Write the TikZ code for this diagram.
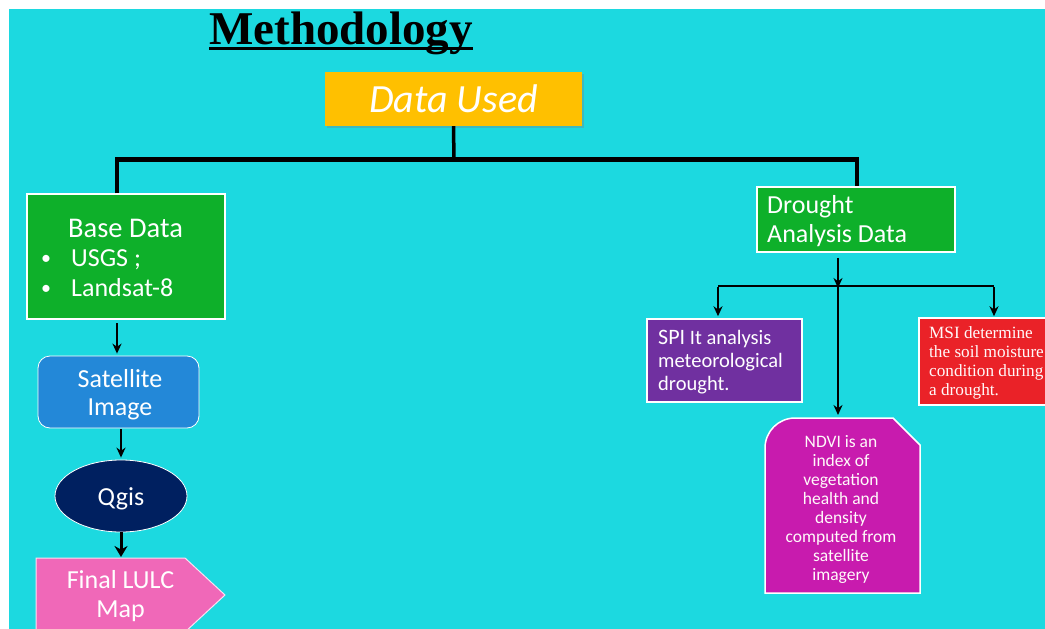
\documentclass[tikz,border=0pt]{standalone}
\usepackage{fontspec}
\setmainfont{Carlito}
\newfontfamily\timesf{Liberation Serif}
\usetikzlibrary{arrows.meta,shapes.geometric,shadows}
\definecolor{bg}{HTML}{1CD9E0}
\definecolor{dorange}{HTML}{FFC000}
\definecolor{dgreen}{HTML}{0EB02A}
\definecolor{dblue}{HTML}{2388D8}
\definecolor{dnavy}{HTML}{002060}
\definecolor{dpink}{HTML}{F068B8}
\definecolor{dpurple}{HTML}{7030A0}
\definecolor{dred}{HTML}{EA2228}
\definecolor{dmag}{HTML}{C81BAE}
\begin{document}
\begin{tikzpicture}[x=1pt,y=-1pt,
  boxs/.style={draw=white, line width=1.5pt, inner sep=0pt},
  txt/.style={text=white, inner sep=0pt},
  big/.style={txt, font=\fontsize{26}{30}\selectfont},
  mid/.style={txt, font=\fontsize{20.5}{23}\selectfont},
  small/.style={txt, font=\fontsize{17.5}{19}\selectfont},
  msit/.style={txt, anchor=base west, font=\timesf\fontsize{17.2}{19}\selectfont, text=white!90!pink},
  trunk/.style={line width=3.5pt},
  arr/.style={line width=2pt, -{Stealth[length=10pt,width=9pt]}},
  bigarr/.style={line width=3pt, -{Stealth[length=11pt,width=13pt]}}
]
\useasboundingbox (0,0) rectangle (1045,629);
\fill[white] (0,0) rectangle (1045,629);
\clip (0,0) rectangle (1045,629);
\fill[bg] (9,9) rectangle (1045,629);

% title
\node[anchor=base west, inner sep=0pt, font=\timesf\bfseries\fontsize{47}{47}\selectfont] (title) at (209,44) {Methodology};
\draw[line width=3pt] ([yshift=-4pt]title.base west) -- ([yshift=-4pt]title.base east);

% data used
\node[inner sep=0pt, fill=dorange, minimum width=257pt, minimum height=54pt,
      drop shadow={opacity=0.35, shadow xshift=2pt, shadow yshift=-2pt},
      text=white, font=\itshape\fontsize{40}{40}\selectfont] (data) at (453.5,99) {Data Used};

% left column
\node[boxs, fill=dgreen, minimum width=198pt, minimum height=125pt] (base) at (126,256.5) {};
\node[txt, font=\fontsize{28.5}{30}\selectfont, anchor=base west] (baset) at (68,237) {Base Data};
\node[txt, font=\fontsize{20}{20}\selectfont, anchor=base] (b1) at (46,264) {\textbullet};
\node[big, anchor=base west] (usgs) at (71,266) {USGS ;};
\node[txt, font=\fontsize{20}{20}\selectfont, anchor=base] (b2) at (46,294) {\textbullet};
\node[big, anchor=base west] (land) at (71,296) {Landsat-8};

\node[draw=white, line width=0.8pt, fill=dblue, rounded corners=12pt, minimum width=161pt, minimum height=72pt, inner sep=0pt] (sat) at (118.5,392) {};
\node[big, anchor=base] (satt1) at (120,387) {Satellite};
\node[big, anchor=base] (satt2) at (120,415) {Image};

\node[ellipse, draw=white, line width=0.8pt, fill=dnavy, minimum width=132pt, minimum height=72pt, inner sep=0pt] (qgis) at (121,496) {};
\node[big, anchor=base] (qgist) at (121,505) {Qgis};

\draw[draw=white!80!dpink, line width=1pt, fill=dpink] (36,558) -- (185,558) -- (225,595) -- (185,632) -- (36,632) -- cycle;
\coordinate (final) at (121,558);
\node[big, anchor=base] (fin1) at (120.5,588) {Final LULC};
\node[big, anchor=base] (fin2) at (120.5,617) {Map};

% right column
\node[boxs, fill=dgreen, minimum width=198pt, minimum height=65pt] (drought) at (856,219.5) {};
\node[big, anchor=base west] (dr1) at (767,213) {Drought};
\node[big, anchor=base west] (dr2) at (767,242.5) {Analysis Data};

\node[boxs, fill=dpurple, minimum width=155pt, minimum height=83pt] (spi) at (724.5,360.5) {};
\node[mid, anchor=base west] (spi1) at (658,344) {{\fontsize{22}{23}\selectfont SPI} It analysis};
\node[mid, anchor=base west] (spi2) at (658,367) {meteorological};
\node[mid, anchor=base west] (spi3) at (658,390) {drought.};

\node[boxs, fill=dred, minimum width=145pt, minimum height=87pt] (msi) at (991.5,361.5) {};
\node[msit] (msi1) at (929,338) {MSI determine};
\node[msit] (msi2) at (929,357) {the soil moisture};
\node[msit] (msi3) at (929,376) {condition during};
\node[msit] (msi4) at (929,395) {a drought.};

\draw[draw=white, line width=1.5pt, fill=dmag] (765,593) -- (765,448) arc[start angle=180, end angle=270, radius=30] -- (893,418) -- (920,445) -- (920,593) -- cycle;
\coordinate (ndvi) at (838,418);
\foreach \t [count=\i] in {NDVI is an, index of, vegetation, health and, density, computed from, satellite, imagery}
  \node[small, anchor=base, text=white!92!pink] (nd\i) at (841,{447+19*(\i-1)}) {\t};

% connectors
\coordinate (j0) at (454,160);
\coordinate (jl) at (117,160);
\coordinate (jr) at (857,160);
\draw[trunk] (data.south) -- (j0);
\draw[trunk] (jl |- base.north) -- ([yshift=1.75pt]jl) -- ([yshift=1.75pt]jl -| jr) -- (jr |- drought.north);
\draw[trunk] ([xshift=-1.75pt]jl) -- ([xshift=1.75pt]jr);

\draw[arr, shorten <=4pt, shorten >=2pt] (117,319) coordinate (bs) -- (bs |- sat.north);
\draw[arr, shorten <=1pt, shorten >=2pt] (121,428) coordinate (ss) -- (ss |- qgis.north);
\draw[bigarr, shorten >=1pt] (qgis.south) -- (final);

\coordinate (j2) at (838,286);
\coordinate (j2l) at (718,286);
\coordinate (j2r) at (994,286);
\draw[arr, shorten <=5pt] (j2 |- drought.south) -- ([yshift=-2pt]j2);
\draw[line width=2pt] (j2l) -- (j2r);
\draw[arr, shorten >=2pt] ([yshift=-1pt]j2l) -- (j2l |- spi.north);
\draw[arr, shorten >=1pt] ([yshift=-1pt]j2r) -- (j2r |- msi.north);
\draw[arr, shorten >=3pt] (j2) -- (ndvi);
\end{tikzpicture}
\end{document}
